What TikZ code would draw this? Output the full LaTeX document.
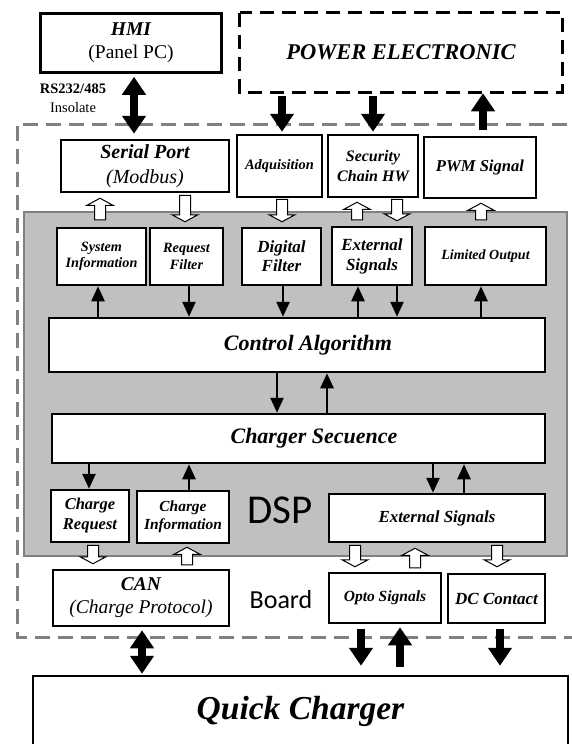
\documentclass[tikz,border=0pt]{standalone}
\usepackage{fontspec}
\setmainfont{Liberation Serif}
\newfontfamily\calibfont{Carlito}
\usetikzlibrary{arrows.meta,calc}
\newcommand\fsz[2]{\fontsize{#1pt}{#2pt}\selectfont}
\definecolor{dspgray}{RGB}{192,192,192}
\definecolor{dspedge}{RGB}{128,128,128}
\definecolor{boardgray}{RGB}{128,128,128}
\begin{document}
\begin{tikzpicture}[x=1pt,y=-1pt,
  box/.style={draw=black, line width=2.5pt, fill=white, align=center, inner sep=0pt},
  bi/.style={font=\bfseries\itshape},
  big/.style={line width=8.5pt, -{Triangle[width=23pt,length=18pt]}},
  bigboth/.style={line width=8.5pt, {Triangle[width=23pt,length=18pt]}-{Triangle[width=23pt,length=18pt]}},
  sm/.style={line width=2.5pt, -{Triangle[width=13pt,length=15pt]}},
  vto/.style={to path={let \p1=(\tikztostart), \p2=(\tikztotarget) in -- (\x1,\y2)}},
  hollow/.style={draw=black, fill=white, line width=1pt, line join=miter,
    to path={let \p1=(\tikztostart), \p2=(\tikztotarget), \n1={ifthenelse(\y2>\y1,-7,7)} in
      (\x1-5.5pt,\y1) -- (\x1-5.5pt,\y2+\n1) -- (\x1-13pt,\y2+\n1) -- (\x1,\y2)
      -- (\x1+13pt,\y2+\n1) -- (\x1+5.5pt,\y2+\n1) -- (\x1+5.5pt,\y1) -- cycle}},
  boardline/.style={draw=boardgray, line width=3pt, dash pattern=on 15pt off 8pt}
]
\useasboundingbox (0,0) rectangle (572,744);
\fill[white] (0,0) rectangle (572,744);
\clip (0,0) rectangle (572,744);

% board frame
\draw[boardline] (590,124) -| (17,637) -- (590,637);
% DSP area
\draw[fill=dspgray, draw=dspedge, line width=2pt] (24,212) rectangle (567,556);
\node[font=\calibfont\fsz{41}{41}] (dsp) at (280,510) {DSP};
\node[font=\calibfont\fsz{26}{26}] (board) at (281,600) {Board};

% top level
\node[box, minimum width=181pt, minimum height=59pt, font=\fsz{19.5}{23}] (hmi) at (131,43)
  {{\bfseries\itshape HMI}\\(Panel PC)};
\node[box, draw=none, minimum width=320pt, minimum height=77pt] (power) at (401,52.5) {};
\draw[line width=3pt, dash pattern=on 14pt off 8pt] (power.north west) rectangle (power.south east);
\node[bi, font=\bfseries\itshape\fsz{22.5}{26}] (powertxt) at (power.center) {POWER ELECTRONIC};
\node[font=\fsz{14.5}{19}, align=center] (rs) at (73,98) {{\bfseries RS232/485}\\Insolate};

\node[box, minimum width=168pt, minimum height=52pt, font=\fsz{20}{25}] (serial) at (145,166)
  {{\bfseries\itshape Serial Port}\\{\itshape (Modbus)}};
\node[box, minimum width=85pt, minimum height=62pt, font=\bfseries\itshape\fsz{14.4}{17}] (adq) at (279.5,166) {Adquisition};
\node[box, minimum width=90pt, minimum height=62pt, font=\bfseries\itshape\fsz{16}{20}] (sec) at (373,166) {Security\\Chain HW};
\node[box, minimum width=112pt, minimum height=61pt, font=\bfseries\itshape\fsz{16.6}{20}] (pwm) at (480,167.5) {PWM Signal};

% DSP row 1
\node[box, minimum width=89pt, minimum height=57pt, font=\bfseries\itshape\fsz{14.2}{16.5}] (sysinfo) at (101.5,256.5) {System\\Information};
\node[box, minimum width=73pt, minimum height=57pt, font=\bfseries\itshape\fsz{14.2}{16.5}] (reqf) at (186.5,256.5) {Request\\Filter};
\node[box, minimum width=79pt, minimum height=57pt, font=\bfseries\itshape\fsz{17}{19}] (digf) at (281.5,256.5) {Digital\\Filter};
\node[box, minimum width=80pt, minimum height=58pt, font=\bfseries\itshape\fsz{17}{20}] (exttop) at (372,256) {External\\Signals};
\node[box, minimum width=121pt, minimum height=58pt, font=\bfseries\itshape\fsz{14}{17}] (limout) at (485.5,256) {Limited Output};

\node[box, minimum width=496pt, minimum height=54pt, font=\bfseries\itshape\fsz{22}{26}] (ctrl) at (297,345) {\hspace*{22pt}Control Algorithm};
\node[box, minimum width=493pt, minimum height=49pt, font=\bfseries\itshape\fsz{22}{26}] (seq) at (298.5,438.5) {\hspace*{31pt}\raisebox{4pt}{Charger Secuence}};

\node[box, minimum width=78pt, minimum height=52pt, font=\bfseries\itshape\fsz{16.5}{20}] (creq) at (90,516) {Charge\\Request};
\node[box, minimum width=92pt, minimum height=52pt, font=\bfseries\itshape\fsz{15.4}{18.5}] (cinfo) at (183,517) {Charge\\Information};
\node[box, minimum width=216pt, minimum height=48pt, font=\bfseries\itshape\fsz{16.9}{20}] (extbot) at (437,518) {External Signals};

\node[box, minimum width=176pt, minimum height=56pt, font=\fsz{19.5}{23}] (can) at (141,598)
  {{\bfseries\itshape CAN}\\{\itshape (Charge Protocol)}};
\node[box, minimum width=112pt, minimum height=50pt, font=\bfseries\itshape\fsz{15.5}{18}] (opto) at (385,598) {Opto Signals};
\node[box, minimum width=97pt, minimum height=49pt, font=\bfseries\itshape\fsz{17}{20}] (dc) at (496.5,598.5) {DC Contact};

\node[box, minimum width=535pt, minimum height=70pt, font=\bfseries\itshape\fsz{33.5}{38}] (qc) at (300.5,711) {Quick Charger};

% big arrows
\draw[bigboth, vto] ($(hmi.south)+(3,3)$) to ($(serial.north)+(0,-5)$);
\draw[big, vto] ($(power.south)+(-119,4)$) to ($(adq.north)+(0,-2)$);
\draw[big, vto] ($(power.south)+(-28,4)$) to ($(sec.north)+(0,-2)$);
\draw[big, vto] ($(pwm.north)+(3,-6)$) to ($(power.south)+(0,1)$);
\draw[bigboth, vto] ($(can.south)+(1,3)$) to ($(qc.north)+(0,-1)$);
\draw[big, vto] ($(opto.south)+(-24,5)$) to ($(qc.north)+(0,-9)$);
\draw[big, vto] ($(qc.north)+(99.5,-8)$) to ($(opto.south)+(0,3)$);
\draw[big, vto] ($(dc.south)+(3.5,5)$) to ($(qc.north)+(0,-9)$);

% small arrows
\draw[sm, vto] ($(ctrl.north)+(-199,0)$) to (sysinfo.south);
\draw[sm, vto] ($(reqf.south)+(2.5,0)$) to (ctrl.north);
\draw[sm, vto] ($(digf.south)+(1.5,0)$) to (ctrl.north);
\draw[sm, vto] ($(ctrl.north)+(61,0)$) to (exttop.south);
\draw[sm, vto] ($(exttop.south)+(25,0)$) to (ctrl.north);
\draw[sm, vto] ($(ctrl.north)+(184,0)$) to (limout.south);
\draw[sm, vto] ($(ctrl.south)+(-20,0)$) to (seq.north);
\draw[sm, vto] ($(seq.north)+(28.5,0)$) to (ctrl.south);
\draw[sm, vto] ($(seq.south)+(-209.5,0)$) to (creq.north);
\draw[sm, vto] ($(cinfo.north)+(6,0)$) to (seq.south);
\draw[sm, vto] ($(seq.south)+(134.5,0)$) to (extbot.north);
\draw[sm, vto] ($(extbot.north)+(27,0)$) to (seq.south);

% hollow arrows
\draw[hollow] ($(sysinfo.north)+(-1.5,-7)$) to ($(serial.south)+(0,5)$);
\draw[hollow] ($(serial.south)+(40,2)$) to ($(reqf.north)+(0,-5)$);
\draw[hollow] ($(adq.south)+(2.5,1)$) to ($(digf.north)+(0,-5)$);
\draw[hollow] ($(exttop.north)+(-15,-6)$) to ($(sec.south)+(0,4)$);
\draw[hollow] ($(sec.south)+(24,1)$) to ($(exttop.north)+(0,-5)$);
\draw[hollow] ($(limout.north)+(-4.5,-6)$) to ($(pwm.south)+(0,4)$);
\draw[hollow] ($(creq.south)+(3,2)$) to ($(can.north)+(0,-5)$);
\draw[hollow] ($(can.north)+(46,-4)$) to ($(cinfo.south)+(0,3)$);
\draw[hollow] ($(extbot.south)+(-82,2)$) to ($(opto.north)+(0,-5)$);
\draw[hollow] ($(opto.north)+(30,-4)$) to ($(extbot.south)+(0,5)$);
\draw[hollow] ($(extbot.south)+(60,2)$) to ($(dc.north)+(0,-6)$);
\end{tikzpicture}
\end{document}
